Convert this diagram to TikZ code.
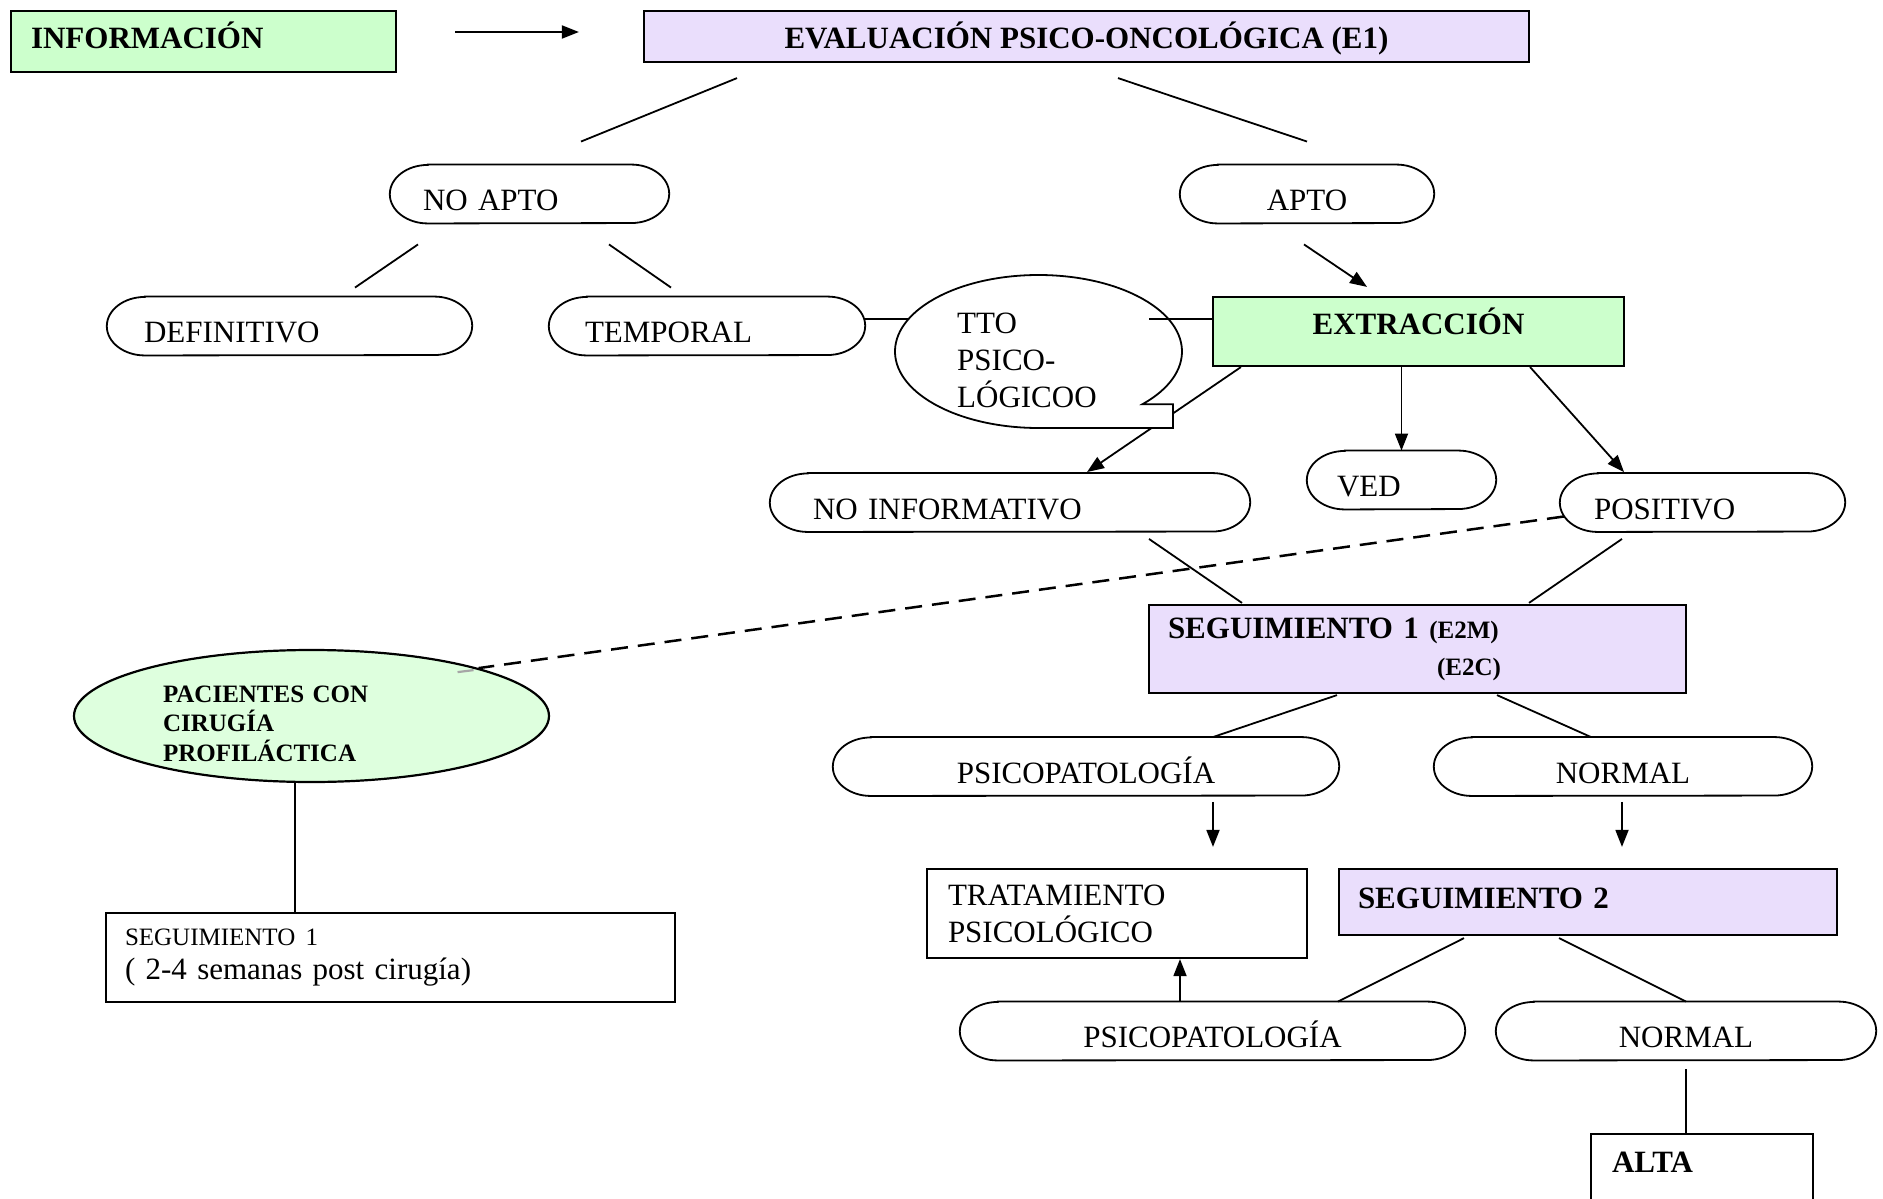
\documentclass[tikz,border=0pt]{standalone}
\usepackage{fontspec}
\setmainfont{Liberation Serif}
\usetikzlibrary{arrows.meta,calc,shapes.geometric}
\definecolor{boxgreen}{RGB}{204,255,204}
\definecolor{boxpurple}{RGB}{234,222,252}
\definecolor{ellgreen}{RGB}{222,255,222}
\newcommand\pillpath[1]{\draw[pillline] ($(#1.north west)+(38,0)$) -- ($(#1.north east)+(-38,0)$)
  arc[start angle=-90,end angle=90,x radius=38,y radius=29.25] -- ($(#1.south west)+(38,0)$)
  arc[start angle=90,end angle=270,x radius=38,y radius=29.25] -- cycle;}
\begin{document}
\begin{tikzpicture}[x=1pt,y=-1pt,
  every node/.style={font=\fontsize{31}{37}\selectfont},
  bf/.style={font=\fontsize{31}{37}\selectfont\bfseries},
  ln/.style={line width=1.8pt},
  pillline/.style={line width=1.8pt},
  arr/.style={line width=1.8pt,-{Triangle[length=17pt,width=13pt]}},
  dsh/.style={line width=2.5pt,dash pattern=on 17pt off 10pt},
  bx/.style={draw,line width=2.2pt,rectangle,inner ysep=0pt},
  pill/.style={rectangle,inner ysep=0pt,minimum height=58.5pt,text height=33.5pt,text depth=0pt}]
\useasboundingbox (0,0) rectangle (1883,1199);
\fill[white] (0,0) rectangle (1883,1199);
\clip (0,0) rectangle (1883,1199);

% boxes
\node[bx,fill=boxgreen,bf,minimum width=385pt,minimum height=61pt,inner xsep=20pt,text width=345pt,align=left,text height=22pt,text depth=8.5pt] (info) at (203.5,41.5) {INFORMACIÓN};
\node[bx,fill=boxpurple,bf,minimum width=885pt,minimum height=51pt,text height=23.5pt,text depth=0pt] (eval) at (1086.5,36.5) {EVALUACIÓN PSICO-ONCOLÓGICA (E1)};
\node[bx,fill=boxgreen,bf,minimum width=411pt,minimum height=69pt,text height=22pt,text depth=16.5pt] (extr) at (1418.5,331.5) {EXTRACCIÓN};
\node[bx,fill=boxpurple,bf,minimum width=537pt,minimum height=88pt,inner xsep=19pt,text width=499pt,align=left] (seg1) at (1417.5,649) {SEGUIMIENTO 1 {\fontsize{25}{30}\selectfont (E2M)}\\\hspace*{269pt}{\fontsize{25}{30}\selectfont (E2C)}};
\node[bx,minimum width=380pt,minimum height=89pt,inner xsep=21pt,text width=338pt,align=left] (trat) at (1117,913.5) {TRATAMIENTO\\PSICOLÓGICO};
\node[bx,fill=boxpurple,bf,minimum width=498pt,minimum height=66pt,inner xsep=19pt,text width=460pt,align=left,text height=22pt,text depth=9.5pt] (seg2) at (1588,902) {SEGUIMIENTO 2};
\node[bx,bf,minimum width=222pt,minimum height=81pt,inner xsep=21pt,text width=180pt,align=left,text height=22pt,text depth=25.5pt] (alta) at (1702,1174.5) {ALTA};
\node[bx,minimum width=569pt,minimum height=89pt,inner xsep=19pt,text width=531pt,align=left] (segL) at (390.5,957.5) {{\fontsize{25}{30}\selectfont SEGUIMIENTO 1}\\[-3pt]( 2-4 semanas post cirugía)};
\node[ellipse,draw,line width=2.2pt,fill=ellgreen,minimum width=475pt,minimum height=132pt,inner sep=0pt,text width=297pt,align=left,text height=32pt,font=\fontsize{25}{29.5}\selectfont\bfseries] (pac) at (311.5,716) {PACIENTES CON\\CIRUGÍA\\PROFILÁCTICA};

% pills
\node[pill,minimum width=279pt,inner xsep=33pt,text width=213pt,align=left] (noapto) at (529.5,194) {NO APTO};
\node[pill,minimum width=254pt] (apto) at (1307,194) {APTO};
\node[pill,minimum width=365pt,inner xsep=37pt,text width=291pt,align=left] (def) at (289.5,326) {DEFINITIVO};
\node[pill,minimum width=316pt,inner xsep=36pt,text width=244pt,align=left] (temp) at (707,326) {TEMPORAL};
\node[pill,minimum width=480pt,inner xsep=43pt,text width=394pt,align=left] (noinf) at (1010,502.5) {NO INFORMATIVO};
\node[pill,minimum width=189pt,inner xsep=30pt,text width=129pt,align=left] (ved) at (1401.5,480) {VED};
\node[pill,minimum width=285pt,inner xsep=34pt,text width=217pt,align=left] (pos) at (1702.5,502.5) {POSITIVO};
\node[pill,minimum width=506pt] (psico1) at (1086,766.5) {PSICOPATOLOGÍA};
\node[pill,minimum width=378pt] (normal1) at (1623,766.5) {NORMAL};
\node[pill,minimum width=505pt] (psico2) at (1212.5,1031) {PSICOPATOLOGÍA};
\node[pill,minimum width=380pt] (normal2) at (1686,1031) {NORMAL};
\foreach \p in {noapto,apto,def,temp,noinf,ved,pos,psico1,normal1,psico2,normal2} {\pillpath{\p}}

% connector hidden by the callout
\draw[arr] ($(extr.south west)+(29,0)$) -- ($(noinf.north)+(77,-1)$);

% callout
\coordinate (ttoc) at (1038.5,351.5);
\draw[ln,fill=white] ($(ttoc)+(103.9,52.75)$) arc[start angle=43.6,end angle=-270,x radius=143.5,y radius=76.5] -- ($(ttoc)+(134.5,76.5)$) -- ($(ttoc)+(134.5,52.75)$) -- cycle;
\node[anchor=north west,align=left,inner sep=0pt] (tto) at ($(ttoc)+(-81.5,-38.5)$) {TTO\\PSICO-\\LÓGICOO};

% connectors
\draw[arr] ($(info.east)+(58,-9.5)$) -- ($(eval.west)+(-64,-4.5)$);
\draw[ln] ($(eval.south)+(-349.5,15)$) -- ($(noapto.north)+(51.5,-23)$);
\draw[ln] ($(eval.south)+(31.5,15)$) -- ($(apto.north)+(0,-23)$);
\draw[ln] ($(noapto.south)+(-111.5,21)$) -- ($(def.north)+(65.5,-9)$);
\draw[ln] ($(noapto.south)+(79.5,21)$) -- ($(temp.north)+(-36,-9)$);
\draw[arr] ($(apto.south)+(-3,21)$) -- ($(extr.north)+(-51.5,-9)$);
\draw[ln] ($(temp.east)+(0,-7)$) -- ($(ttoc)+(-129.5,-32.5)$);
\draw[ln] ($(ttoc)+(110.5,-32.5)$) -- ($(extr.west)+(0,-12.5)$);
\draw[arr] (extr.south -| ved.north) -- (ved.north);
\draw[arr] ($(extr.south east)+(-95,0)$) -- ($(pos.north)+(-78.5,-1)$);
\draw[ln] ($(noinf.south)+(139,7)$) -- ($(seg1.north)+(-175.5,-1)$);
\draw[ln] ($(pos.south)+(-80.5,7)$) -- ($(seg1.north)+(111.5,-1)$);
\draw[dsh] ($(pos.west)+(4,14)$) -- (pac.16.5);
\draw[gray!70,line width=2.2pt] ($(pac.16.5)+(-21,4)$) -- ($(pac.16.5)+(-5,2)$);
\draw[ln] ($(seg1.south)+(-80.5,1)$) -- ($(psico1.north)+(127,0)$);
\draw[ln] ($(seg1.south)+(79.5,1)$) -- ($(normal1.north)+(-32,0)$);
\draw[arr] ($(psico1.south)+(127,6)$) -- ($(trat.north)+(96,-21)$);
\draw[arr] ($(normal1.south)+(-1,6)$) -- ($(seg2.north)+(34,-21)$);
\draw[ln] ($(seg2.south)+(-124,2)$) -- ($(psico2.north)+(125.5,0)$);
\draw[ln] ($(seg2.south)+(-29,2)$) -- (normal2.north);
\draw[arr] ($(psico2.north)+(-32.5,0)$) -- ($(trat.south)+(63,0)$);
\draw[ln] ($(normal2.south)+(0,9)$) -- ($(alta.north)+(-16,0)$);
\draw[ln] ($(pac.south)+(-16.5,0)$) -- ($(segL.north)+(-95.5,0)$);
\end{tikzpicture}
\end{document}
